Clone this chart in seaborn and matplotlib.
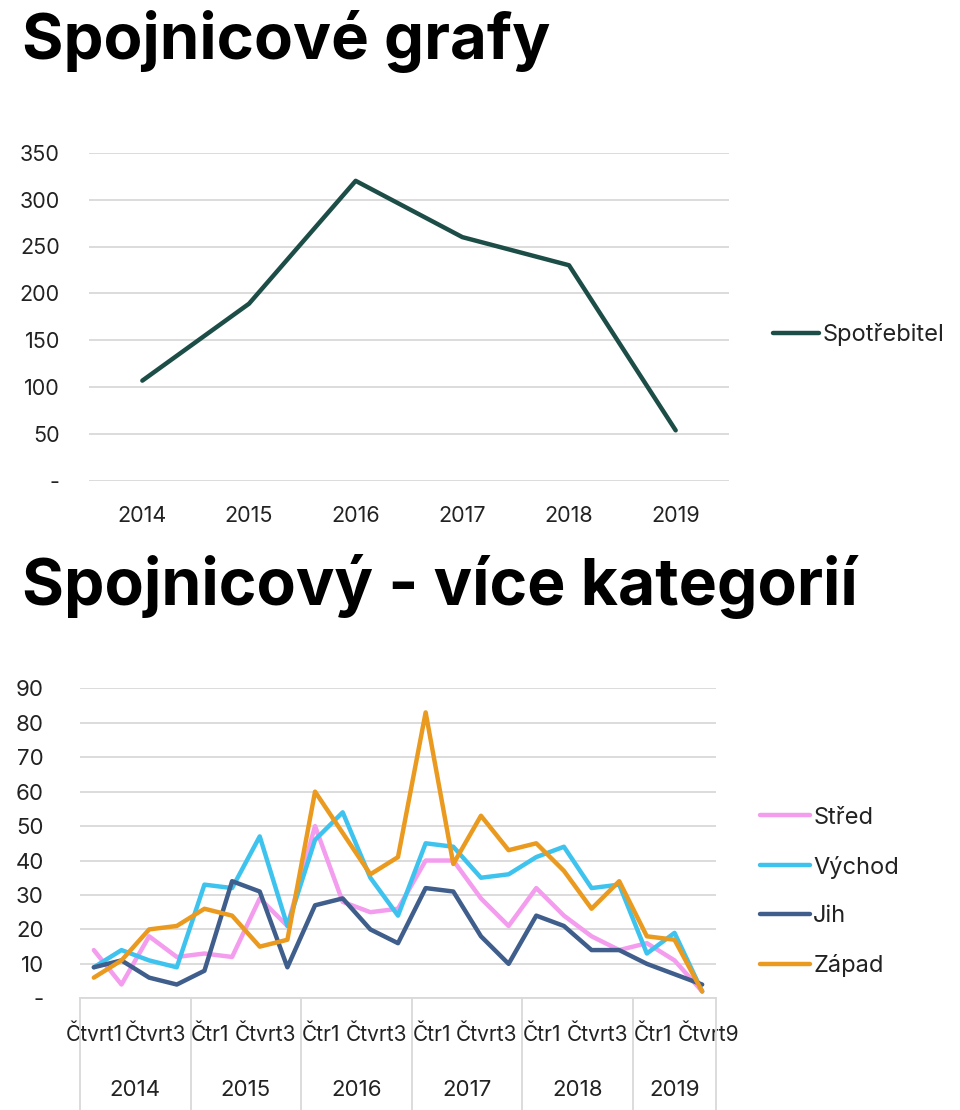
import matplotlib
matplotlib.use("Agg")
import matplotlib.pyplot as plt
import matplotlib.transforms as mtransforms
import seaborn as sns
import pandas as pd
import numpy as np

# ---------------- data ----------------
years_top = ["2014", "2015", "2016", "2017", "2018", "2019"]
spotrebitel = [107, 189, 320, 260, 230, 54]

q_years = ["2014"] * 4 + ["2015"] * 4 + ["2016"] * 4 + ["2017"] * 4 + ["2018"] * 4 + ["2019"] * 3
q_labels = ["Čtvrt1", "Čtvrt2", "Čtvrt3", "Čtvrt4",
            "Čtr1", "Čtvrt2", "Čtvrt3", "Čtvrt4",
            "Čtr1", "Čtvrt2", "Čtvrt3", "Čtvrt4",
            "Čtr1", "Čtvrt2", "Čtvrt3", "Čtvrt4",
            "Čtr1", "Čtvrt2", "Čtvrt3", "Čtvrt4",
            "Čtr1", "Čtvrt2", "Čtvrt9"]
stred = [14, 4, 18, 12, 13, 12, 29, 21, 50, 28, 25, 26,
         40, 40, 29, 21, 32, 24, 18, 14, 16, 11, 2]
vychod = [9, 14, 11, 9, 33, 32, 47, 21, 46, 54, 35, 24,
          45, 44, 35, 36, 41, 44, 32, 33, 13, 19, 2]
jih = [9, 11, 6, 4, 8, 34, 31, 9, 27, 29, 20, 16,
       32, 31, 18, 10, 24, 21, 14, 14, 10, 7, 4]
zapad = [6, 11, 20, 21, 26, 24, 15, 17, 60, 48, 36, 41,
         83, 39, 53, 43, 45, 37, 26, 34, 18, 17, 2]
regions = ["Střed", "Východ", "Jih", "Západ"]
colors = ["#F49CEE", "#3EC3EE", "#3F5E8C", "#EA9A1F"]

top_ticks = [0, 50, 100, 150, 200, 250, 300, 350]
bot_ticks = [0, 10, 20, 30, 40, 50, 60, 70, 80, 90]

# ---------------- style ----------------
sns.set_theme(style="white")
plt.rcParams["font.family"] = ["Inter", "DejaVu Sans"]
TXT = "#222222"
GRID = "#d9d9d9"

W, H = 960, 1110
fig = plt.figure(figsize=(W / 100, H / 100), dpi=100)


def fig_rect(x0, y_top, x1, y_bot):
    return [x0 / W, 1 - y_bot / H, (x1 - x0) / W, (y_bot - y_top) / H]


# ---------------- titles ----------------
def fit_title(text, x, baseline, width_px):
    t = fig.text(x / W, 1 - baseline / H, text, fontsize=48, fontweight="bold",
                 color="black", ha="left", va="baseline")
    r = fig.canvas.get_renderer()
    w = t.get_window_extent(r).width
    t.set_fontsize(48 * width_px / w)
    return t


fit_title("Spojnicové grafy", 22, 59, 528)
fit_title("Spojnicový - více kategorií", 22, 605, 836)

# ---------------- top chart ----------------
ax1 = fig.add_axes(fig_rect(89, 152.7, 729, 481))
df_top = pd.DataFrame({"pos": np.arange(len(years_top)), "value": spotrebitel,
                       "serie": "Spotřebitel"})
sns.lineplot(data=df_top, x="pos", y="value", hue="serie", palette=["#1C4D47"],
             linewidth=3.2, ax=ax1)
ax1.set_xlim(-0.5, len(years_top) - 0.5)
ax1.set_ylim(0, 350)
ax1.set_yticks(top_ticks)
ax1.set_yticklabels(["-" if v == 0 else str(v) for v in top_ticks])
ax1.set_xticks(np.arange(len(years_top)))
ax1.set_xticklabels(years_top)
ax1.set_xlabel("")
ax1.set_ylabel("")
for s in ax1.spines.values():
    s.set_visible(False)
ax1.yaxis.grid(True, color=GRID, linewidth=1.3)
ax1.set_axisbelow(True)
ax1.tick_params(axis="y", length=0, pad=21, labelsize=15.5, labelcolor=TXT)
ax1.tick_params(axis="x", length=0, pad=18, labelsize=15.5, labelcolor=TXT)
leg1 = ax1.legend(loc="center left", bbox_to_anchor=(1.035, 0.445), frameon=False,
                  fontsize=17, handlelength=1.95, handletextpad=0.15)
for t in leg1.get_texts():
    t.set_color(TXT)

# ---------------- bottom chart ----------------
ax2 = fig.add_axes(fig_rect(80, 688.3, 716, 998.3))
n = len(q_labels)
df_bot = pd.concat([
    pd.DataFrame({"pos": np.arange(n), "value": vals, "region": reg})
    for reg, vals in zip(regions, [stred, vychod, jih, zapad])
])
sns.lineplot(data=df_bot, x="pos", y="value", hue="region", hue_order=regions,
             palette=colors, linewidth=3.2, ax=ax2)
ax2.set_xlim(-0.5, n - 0.5)
ax2.set_ylim(0, 90)
ax2.set_yticks(bot_ticks)
ax2.set_yticklabels(["-" if v == 0 else str(v) for v in bot_ticks])
ax2.set_xticks(np.arange(0, n, 2))
ax2.set_xticklabels([q_labels[i] for i in range(0, n, 2)])
ax2.set_xlabel("")
ax2.set_ylabel("")
for k, s in ax2.spines.items():
    s.set_visible(k == "bottom")
ax2.spines["bottom"].set_color(GRID)
ax2.spines["bottom"].set_linewidth(1.3)
ax2.yaxis.grid(True, color=GRID, linewidth=1.3)
ax2.set_axisbelow(True)
ax2.tick_params(axis="y", length=0, pad=26, labelsize=16, labelcolor=TXT)
ax2.tick_params(axis="x", length=0, pad=19, labelsize=15, labelcolor=TXT)
# slight rightward nudge of the quarter labels (as in the reference)
shift = mtransforms.ScaledTranslation(6 / 100, 0, fig.dpi_scale_trans)
for lab in ax2.get_xticklabels()[1:]:
    lab.set_transform(lab.get_transform() + shift)

# year groups: separators and labels
trans = mtransforms.blended_transform_factory(ax2.transData, ax2.transAxes)
uniq_years = list(dict.fromkeys(q_years))
idx = np.arange(n)
bounds = [-0.5]
for y in uniq_years:
    members = idx[np.array(q_years) == y]
    bounds.append(members.max() + 0.5)
    ax2.text(members.mean(), -0.296, y, transform=trans, ha="center", va="center",
             fontsize=16, color=TXT)
for b in bounds:
    ax2.plot([b, b], [0, -0.42], transform=trans, color=GRID, linewidth=1.3,
             clip_on=False)

leg2 = ax2.legend(loc="center left", bbox_to_anchor=(1.036, 0.343), frameon=False,
                  fontsize=17, handlelength=2.1, handletextpad=0.15,
                  labelspacing=1.14)
for t in leg2.get_texts():
    t.set_color(TXT)

fig.savefig("out.png", dpi=100, facecolor="white")
